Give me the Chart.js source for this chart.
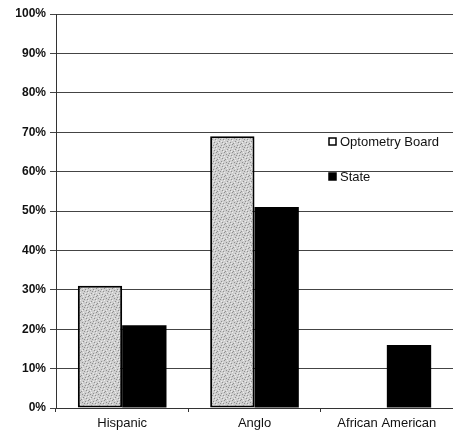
<!DOCTYPE html>
<html lang="en">
<head>
    <meta charset="UTF-8">
    <title>Optometry Board vs State</title>
    <script src="https://cdn.jsdelivr.net/npm/chart.js@4.4.1/dist/chart.umd.min.js"></script>
    <style>
        body { margin: 0; background: #fff; }
        canvas { display: block; }
    </style>
</head>
<body>
    <canvas id="myChart" width="453" height="435"></canvas>
    <script>
        var categories = ['Hispanic', 'Anglo', 'African American'];
        var seriesNames = ['Optometry Board', 'State'];
        var boardValues = [31, 69, 0];
        var stateValues = [21, 51, 16];
        var yTicks = [0, 10, 20, 30, 40, 50, 60, 70, 80, 90, 100];

        var FONT = '"Liberation Sans", Arial, sans-serif';

        // speckled grey fill for the board bars
        function makeStipple() {
            var c = document.createElement('canvas');
            c.width = 8; c.height = 8;
            var g = c.getContext('2d');
            g.fillStyle = '#cfcfcf';
            g.fillRect(0, 0, 8, 8);
            g.fillStyle = '#8f8f8f';
            [[0,0],[5,1],[2,2],[7,3],[3,5],[6,6],[1,7],[4,3]].forEach(function (d) {
                g.fillRect(d[0], d[1], 1, 1);
            });
            g.fillStyle = '#ececec';
            [[3,0],[6,2],[0,4],[5,5],[2,6],[7,7]].forEach(function (d) {
                g.fillRect(d[0], d[1], 1, 1);
            });
            return g.createPattern(c, 'repeat');
        }

        var ctx = document.getElementById('myChart').getContext('2d');
        var stipple = makeStipple();

        // legend drawn inside the plot, to the right of the Anglo bars
        var insideLegend = {
            id: 'insideLegend',
            afterDatasetsDraw: function (chart) {
                var c = chart.ctx;
                var x = 329, ys = [142, 177];
                c.save();
                c.font = '13px ' + FONT;
                c.textBaseline = 'middle';
                chart.data.datasets.forEach(function (ds, i) {
                    var y = ys[i];
                    c.fillStyle = i === 0 ? '#fff' : '#000';
                    c.fillRect(x, y - 4, 7, 7);
                    c.strokeStyle = '#000';
                    c.lineWidth = 1.5;
                    c.strokeRect(x, y - 4, 7, 7);
                    c.fillStyle = '#111';
                    c.fillText(ds.label, x + 11, y);
                });
                c.restore();
            }
        };

        var myChart = new Chart(ctx, {
            type: 'bar',
            data: {
                labels: categories,
                datasets: [{
                    label: seriesNames[0],
                    data: boardValues,
                    backgroundColor: stipple,
                    borderColor: '#000',
                    borderWidth: 2,
                    borderSkipped: false
                }, {
                    label: seriesNames[1],
                    data: stateValues,
                    backgroundColor: '#000',
                    borderColor: '#000',
                    borderWidth: 0
                }]
            },
            options: {
                responsive: false,
                animation: false,
                // plot runs slightly past the right edge of the canvas
                layout: { padding: { top: 14, right: -5, left: 0, bottom: 0 } },
                categoryPercentage: 0.67,
                barPercentage: 1.0,
                plugins: {
                    legend: { display: false },
                    tooltip: { enabled: false }
                },
                scales: {
                    x: {
                        grid: {
                            offset: true,
                            drawOnChartArea: false,
                            color: '#333',
                            tickLength: 4
                        },
                        border: { color: '#333', width: 1 },
                        ticks: {
                            color: '#111',
                            font: { family: FONT, size: 13 },
                            padding: 4
                        },
                        afterFit: function (scale) { scale.height = 27; }
                    },
                    y: {
                        min: 0,
                        max: 100,
                        afterBuildTicks: function (scale) {
                            scale.ticks = yTicks.map(function (v) { return { value: v }; });
                        },
                        grid: {
                            color: '#444',
                            lineWidth: 1,
                            tickLength: 6
                        },
                        border: { color: '#333', width: 1 },
                        ticks: {
                            color: '#111',
                            font: { family: FONT, size: 12, weight: 'bold' },
                            padding: 4,
                            callback: function (v) { return v + '%'; }
                        },
                        afterFit: function (scale) { scale.width = 56; }
                    }
                }
            },
            plugins: [insideLegend]
        });
    </script>
</body>
</html>
